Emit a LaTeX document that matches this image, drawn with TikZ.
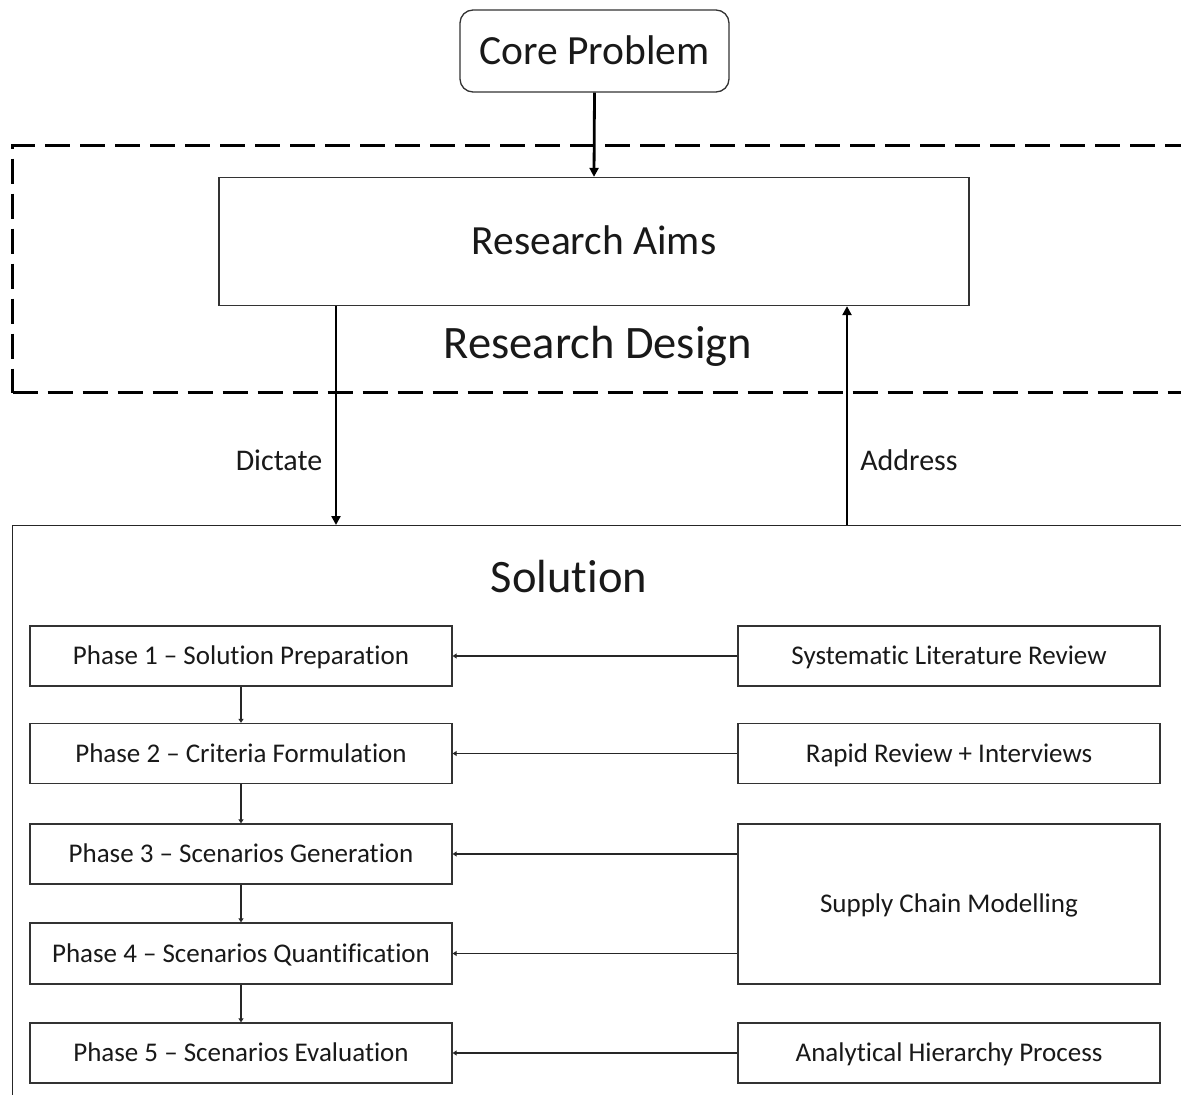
\documentclass[tikz,border=0pt]{standalone}
\usepackage{fontspec}
\setmainfont[RawFeature={-liga}]{Carlito}
\usetikzlibrary{arrows.meta}
\begin{document}
\begin{tikzpicture}[x=1pt,y=-1pt,
  fsmall/.style={font=\fontsize{27}{32}\selectfont,text depth=5pt,text height=22.4pt},
  flabel/.style={font=\fontsize{30}{36}\selectfont,text depth=6pt,text height=25.3pt},
  fmid/.style={font=\fontsize{41.5}{48}\selectfont,text depth=8pt,text height=34.7pt},
  fbig/.style={font=\fontsize{46.5}{54}\selectfont,text depth=9pt,text height=39pt},
  box/.style={draw=black!80,line width=1.3pt,rectangle,inner sep=0pt,text=black!90},
  phasebox/.style={box,minimum width=422pt,minimum height=60pt,fsmall},
  bigarrow/.style={draw=black,line width=2.8pt,-{Triangle[width=9pt,length=9pt]}},
  smallarrow/.style={draw=black!85,line width=1.4pt,-{Triangle[width=5pt,length=4pt]}},
  lbl/.style={inner sep=0pt,text=black!90}]
\useasboundingbox (0,0) rectangle (1181,1095);
\clip (0,0) rectangle (1181,1095);
\fill[white] (0,0) rectangle (1181,1095);
% containers
\node[draw=black,line width=3pt,dash pattern=on 25pt off 10pt,rectangle,minimum width=1200pt,minimum height=247pt,anchor=north west,inner sep=0pt] (design) at (11,144) {};
\node[box,draw=black!85,minimum width=1200pt,minimum height=600pt,anchor=north west] (sol) at (12,525) {};
% top
\node[box,rounded corners=13pt,minimum width=269pt,minimum height=82pt,fmid] (core) at (594.5,51) {Core Problem};
\node[box,minimum width=750pt,minimum height=128pt,fmid] (aims) at (594,241.5) {Research Aims};
\node[lbl,fbig] (designlbl) at (598,343) {Research Design};
\node[lbl,fbig] (sollbl) at (569,577) {Solution};
\node[lbl,flabel] (dictate) at (279,461) {Dictate};
\node[lbl,flabel] (address) at (909,461) {Address};
% phases
\node[phasebox] (p1) at (241,656) {Phase 1 – Solution Preparation};
\node[phasebox] (p2) at (241,753.5) {Phase 2 – Criteria Formulation};
\node[phasebox] (p3) at (241,854) {Phase 3 – Scenarios Generation};
\node[phasebox,minimum height=61pt] (p4) at (241,953.5) {Phase 4 – Scenarios Quantification};
\node[phasebox] (p5) at (241,1053) {Phase 5 – Scenarios Evaluation};
% methods
\node[phasebox] (slr) at (949,656) {Systematic Literature Review};
\node[phasebox] (rri) at (949,753.5) {Rapid Review + Interviews};
\node[phasebox,minimum height=160pt] (scm) at (949,904) {Supply Chain Modelling};
\node[phasebox] (ahp) at (949,1053) {Analytical Hierarchy Process};
% connectors
\coordinate (dx) at (336,0);
\coordinate (ax) at (847,0);
\draw[bigarrow] (core.south) -- (aims.north);
\draw[bigarrow] (aims.south -| dx) -- (sol.north -| dx);
\draw[bigarrow] (sol.north -| ax) -- (aims.south -| ax);
\draw[smallarrow] (p1.south) -- (p2.north);
\draw[smallarrow] (p2.south) -- (p3.north);
\draw[smallarrow] (p3.south) -- (p4.north);
\draw[smallarrow] (p4.south) -- (p5.north);
\draw[smallarrow] (slr.west) -- (p1.east);
\draw[smallarrow] (rri.west) -- (p2.east);
\draw[smallarrow] (scm.west |- p3.east) -- (p3.east);
\draw[smallarrow] (scm.west |- p4.east) -- (p4.east);
\draw[smallarrow] (ahp.west) -- (p5.east);
\end{tikzpicture}
\end{document}
